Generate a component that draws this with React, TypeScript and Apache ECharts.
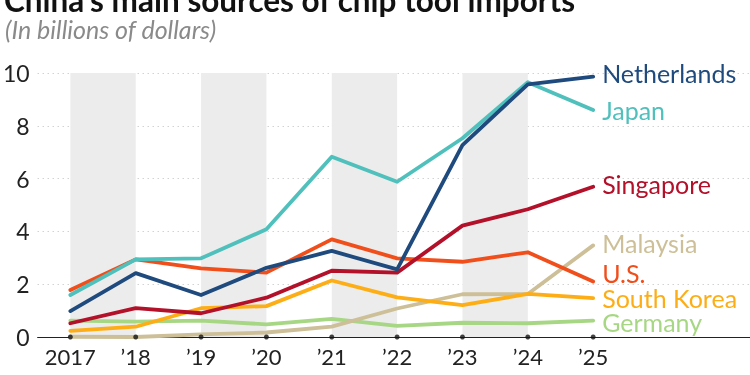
import React, { useEffect, useRef } from "react";
import * as echarts from "echarts";

const years = ["2017", "’18", "’19", "’20", "’21", "’22", "’23", "’24", "’25"];
const netherlands = [0.98, 2.42, 1.59, 2.62, 3.26, 2.56, 7.27, 9.57, 9.86];
const japan = [1.59, 2.94, 2.98, 4.08, 6.83, 5.88, 7.53, 9.65, 8.6];
const singapore = [0.52, 1.09, 0.9, 1.49, 2.51, 2.44, 4.22, 4.84, 5.69];
const us = [1.78, 2.94, 2.6, 2.44, 3.7, 2.98, 2.85, 3.21, 2.1];
const southKorea = [0.23, 0.39, 1.09, 1.17, 2.14, 1.5, 1.21, 1.63, 1.47];
const germany = [0.62, 0.58, 0.62, 0.48, 0.69, 0.42, 0.54, 0.52, 0.62];
const malaysia = [0.01, 0.0, 0.1, 0.17, 0.39, 1.08, 1.62, 1.63, 3.47];
const yTicks = [0, 2, 4, 6, 8, 10];
const bandPairs = [[0, 1], [2, 3], [4, 5], [6, 7]];

const FONT = "Lato, 'Open Sans', sans-serif";

export default function App() {
  const ref = useRef<HTMLDivElement>(null);
  useEffect(() => {
    if (!ref.current) return;
    const chart = echarts.init(ref.current, null, { renderer: "svg" });
    const mk = (name: string, vals: number[], color: string, dy: number, z: number) => ({
      name,
      type: "line",
      data: vals.map((v, i) => [i, v]),
      symbol: "none",
      z,
      lineStyle: { color, width: 3.8, join: "round", cap: "round" },
      endLabel: {
        show: true,
        formatter: name,
        color,
        fontSize: 25,
        fontFamily: FONT,
        distance: 9,
        offset: [0, dy],
      },
    });
    chart.setOption({
      animation: false,
      textStyle: { fontFamily: FONT },
      title: [
        {
          text: "China’s main sources of chip tool imports",
          left: -1,
          top: -21,
          textStyle: { fontSize: 31.5, fontWeight: "bold", color: "#111", fontFamily: FONT },
        },
        {
          text: "(In billions of dollars)",
          left: 0,
          top: 11,
          textStyle: { fontSize: 25, fontStyle: "italic", fontWeight: "normal", color: "#8a8a8a", fontFamily: FONT },
        },
      ],
      grid: { left: 35, right: 0, top: 73, bottom: 38, containLabel: false },
      xAxis: {
        type: "value",
        min: -0.5,
        max: 10.4,
        axisLine: { show: true, lineStyle: { color: "#222", width: 1.2 } },
        axisTick: { show: false },
        splitLine: { show: false },
        axisLabel: {
          customValues: years.map((_, i) => i),
          formatter: (v: number) => years[Math.round(v)] ?? "",
          fontSize: 22,
          color: "#222",
          margin: 8,
          fontFamily: FONT,
        },
      },
      yAxis: {
        type: "value",
        min: 0,
        max: 10,
        interval: 2,
        axisLine: { show: false },
        axisTick: { show: false },
        splitLine: { show: true, lineStyle: { color: "#bdbdbd", type: [1, 4], width: 1.2 } },
        axisLabel: {
          fontSize: 23,
          color: "#222",
          margin: 8,
          fontFamily: FONT,
          customValues: yTicks,
        },
      },
      series: [
        {
          type: "line",
          data: [],
          silent: true,
          markArea: {
            silent: true,
            itemStyle: { color: "#ececec" },
            data: bandPairs.map(([a, b]) => [
              { xAxis: a, yAxis: 0 },
              { xAxis: b, yAxis: 10 },
            ]),
          },
          z: 0,
        },
        mk("Germany", germany, "#a7d784", 1, 2),
        mk("Malaysia", malaysia, "#cdbf97", -2, 3),
        mk("South Korea", southKorea, "#fdae17", 0, 4),
        mk("U.S.", us, "#f04f1c", -9, 5),
        mk("Singapore", singapore, "#b3102a", -3, 6),
        mk("Japan", japan, "#4fc0bc", 0, 7),
        mk("Netherlands", netherlands, "#1e4a7d", -4, 8),
        {
          type: "scatter",
          data: years.map((_, i) => [i, 0]),
          symbolSize: 5,
          itemStyle: { color: "#111" },
          z: 10,
          silent: true,
        },
      ],
    });
    return () => chart.dispose();
  }, []);
  return <div ref={ref} style={{ width: 750, height: 375, position: "fixed", left: 0, top: 0 }} />;
}
